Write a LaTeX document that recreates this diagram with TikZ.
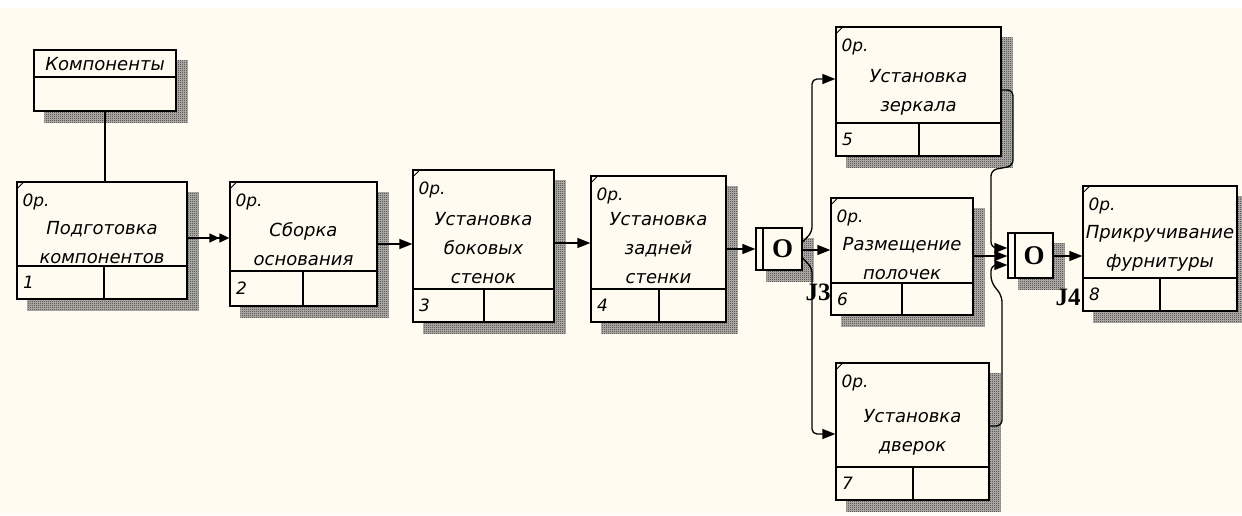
\documentclass[tikz,border=0pt]{standalone}
\usepackage{fontspec}
\setmainfont{DejaVu Sans}
\newfontfamily\jfont{Liberation Serif}
\usetikzlibrary{arrows.meta,patterns,backgrounds}
\definecolor{paper}{HTML}{FFFBF0}
\definecolor{hatch}{HTML}{303030}
\definecolor{hatchbg}{HTML}{B8B6B0}
\pgfdeclarepatternformonly{finechecker}{\pgfpointorigin}{\pgfpoint{2pt}{2pt}}{\pgfpoint{2pt}{2pt}}{%
  \pgfpathrectangle{\pgfpointorigin}{\pgfpoint{1pt}{1pt}}%
  \pgfpathrectangle{\pgfpoint{1pt}{1pt}}{\pgfpoint{1pt}{1pt}}%
  \pgfusepath{fill}}

\begin{document}
\begin{tikzpicture}[
  x=1pt, y=-1pt,
  >={Triangle[length=13pt,width=10pt]},
  uow/.style={draw, line width=1.3pt, fill=paper, inner sep=0pt},
  jbox/.style={draw, line width=1.3pt, fill=paper, inner sep=0pt, font=\jfont\bfseries\fontsize{27}{27}\selectfont},
  lbl/.style={font=\fontsize{18}{29}\selectfont\itshape, align=center, inner sep=0pt},
  oplbl/.style={font=\fontsize{17}{17}\selectfont\itshape, anchor=west, inner sep=0pt},
  jlbl/.style={font=\jfont\bfseries\fontsize{25}{25}\selectfont, inner sep=0pt},
  flow/.style={->, line width=1.3pt},
]
\useasboundingbox (0,0) rectangle (1242,515);

% referent
\node[uow, minimum width=142pt, minimum height=61pt] (komp) at (105,80.5) {};
\draw[line width=1.3pt] (komp.west |- 0,77) -- (komp.east |- 0,77);
\node[lbl] (kompt) at (105,64) {Компоненты};

% units of work
\node[uow, minimum width=170pt, minimum height=117pt] (prep) at (102,240.5) {};
\node[uow, minimum width=147pt, minimum height=124pt] (base) at (303.5,244) {};
\node[uow, minimum width=141pt, minimum height=152pt] (sides) at (483.5,246) {};
\node[uow, minimum width=135pt, minimum height=146pt] (back) at (658.5,249) {};
\node[uow, minimum width=165pt, minimum height=129pt] (mirror) at (918.5,91.5) {};
\node[uow, minimum width=142pt, minimum height=117pt] (shelves) at (902,256.5) {};
\node[uow, minimum width=153pt, minimum height=137pt] (doors) at (912.5,431.5) {};
\node[uow, minimum width=154pt, minimum height=125pt] (fit) at (1160,248.5) {};

% bottom rows
\draw[line width=1.3pt] (prep.west |- 0,266) -- (prep.east |- 0,266) (104,266) -- (prep.south -| 104,0);
\draw[line width=1.3pt] (base.west |- 0,271) -- (base.east |- 0,271) (303,271) -- (base.south -| 303,0);
\draw[line width=1.3pt] (sides.west |- 0,289) -- (sides.east |- 0,289) (484,289) -- (sides.south -| 484,0);
\draw[line width=1.3pt] (back.west |- 0,289) -- (back.east |- 0,289) (659,289) -- (back.south -| 659,0);
\draw[line width=1.3pt] (mirror.west |- 0,123) -- (mirror.east |- 0,123) (919,123) -- (mirror.south -| 919,0);
\draw[line width=1.3pt] (shelves.west |- 0,283) -- (shelves.east |- 0,283) (902,283) -- (shelves.south -| 902,0);
\draw[line width=1.3pt] (doors.west |- 0,467) -- (doors.east |- 0,467) (913,467) -- (doors.south -| 913,0);
\draw[line width=1.3pt] (fit.west |- 0,278) -- (fit.east |- 0,278) (1160,278) -- (fit.south -| 1160,0);

\foreach \n in {prep,base,sides,back,mirror,shelves,doors,fit}{
  \draw[line width=0.8pt] ([yshift=-8pt]\n.north west) -- ([xshift=8pt]\n.north west);
  \node[oplbl] at ([shift={(6,21)}]\n.north west) {0р.};
}

\node[lbl] (prept) at (102,242.5) {Подготовка\\компонентов};
\node[lbl] (baset) at (303.5,244.5) {Сборка\\основания};
\node[lbl] (sidest) at (483.5,248) {Установка\\боковых\\стенок};
\node[lbl] (backt) at (658.5,248) {Установка\\задней\\стенки};
\node[lbl] (mirrort) at (918.5,92) {Установка\\зеркала};
\node[lbl] (shelvest) at (902,259) {Размещение\\полочек};
\node[lbl] (doorst) at (912.5,432.5) {Установка\\дверок};
\node[lbl] (fitt) at (1160,248) {Прикручивание\\фурнитуры};

\node[oplbl] (n1) at (23,282.5) {1};
\node[oplbl] (n2) at (236,288.5) {2};
\node[oplbl] (n3) at (419,305.5) {3};
\node[oplbl] (n4) at (597,305.5) {4};
\node[oplbl] (n5) at (842,139.5) {5};
\node[oplbl] (n6) at (837,299) {6};
\node[oplbl] (n7) at (842,483.5) {7};
\node[oplbl] (n8) at (1089,294.5) {8};

% junctions
\node[jbox, minimum width=46pt, minimum height=42pt] (jthree) at (779,249) {\hspace{7pt}O};
\draw[line width=1.3pt] (763,0 |- jthree.north) -- (763,0 |- jthree.south);
\node[jlbl] (j3) at (818,292) {J3};
\node[jbox, minimum width=45pt, minimum height=45pt] (jfour) at (1030.5,255.5) {\hspace{7pt}O};
\draw[line width=1.3pt] (1015,0 |- jfour.north) -- (1015,0 |- jfour.south);
\node[jlbl] (j4) at (1068,297) {J4};

% links
\draw[line width=1.3pt] (komp.south) -- (komp.south |- prep.north);
\draw[line width=1.3pt, -{Triangle[length=10pt,width=9pt]Triangle[length=10pt,width=9pt]}] (prep.east |- 0,238) -- (base.west |- 0,238);
\draw[flow] (base.east |- 0,244) -- (sides.west |- 0,244);
\draw[flow] (sides.east |- 0,243) -- (back.west |- 0,243);
\draw[flow] (back.east |- 0,249) -- (jthree.west |- 0,249);
\draw[flow] (jthree.east |- 0,250) -- (shelves.west |- 0,250);
\draw[flow, rounded corners=5pt] (jthree.east |- 0,242) -- (812,232) -- (812,79) -- (mirror.west |- 0,79);
\draw[flow, rounded corners=5pt] (jthree.east |- 0,258) -- (812,268) -- (812,434) -- (doors.west |- 0,434);
\draw[flow, rounded corners=6pt] (mirror.east |- 0,90) -- (1013,90) -- (1013,166) -- (991,170) -- (991,248) -- (jfour.west |- 0,248);
\draw[flow] (shelves.east |- 0,256) -- (jfour.west |- 0,256);
\draw[flow, rounded corners=6pt] (doors.east |- 0,426) -- (1002,426) -- (1002,296) -- (991,282) -- (991,265) -- (jfour.west |- 0,265);
\draw[flow] (jfour.east |- 0,256) -- (fit.west |- 0,256);

% paper and hatched shadows
\begin{scope}[on background layer]
  \fill[white] (0,0) rectangle (1242,515);
  \fill[paper] (0,8) rectangle (1242,515);
  \foreach \n in {komp,prep,base,sides,back,mirror,shelves,doors,fit,jthree,jfour}{
    \fill[hatchbg] ([shift={(11,11)}]\n.north west) rectangle ([shift={(11,11)}]\n.south east);
    \fill[pattern=finechecker, pattern color=hatch] ([shift={(11,11)}]\n.north west) rectangle ([shift={(11,11)}]\n.south east);
  }
\end{scope}
\end{tikzpicture}
\end{document}
